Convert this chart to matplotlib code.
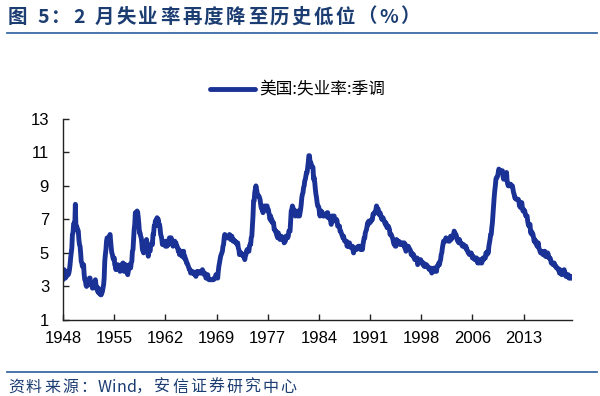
import numpy as np
import matplotlib
matplotlib.use('Agg')
import matplotlib.pyplot as plt
from matplotlib.lines import Line2D

plt.rcParams['font.family'] = ['Liberation Sans', 'Noto Sans CJK SC', 'DejaVu Sans']

# US unemployment rate, seasonally adjusted, monthly from Jan 1948
start_year = 1948
rate = [
    3.4, 3.8, 4.0, 3.9, 3.5, 3.6, 3.6, 3.9, 3.8, 3.7, 3.8, 4.0,   # 1948
    4.3, 4.7, 5.0, 5.3, 6.1, 6.2, 6.7, 6.8, 6.6, 7.9, 6.4, 6.6,   # 1949
    6.5, 6.4, 6.3, 5.8, 5.5, 5.4, 5.0, 4.5, 4.4, 4.2, 4.2, 4.3,   # 1950
    3.7, 3.4, 3.4, 3.1, 3.0, 3.2, 3.1, 3.1, 3.3, 3.5, 3.5, 3.1,   # 1951
    3.2, 3.1, 2.9, 2.9, 3.0, 3.0, 3.2, 3.4, 3.1, 3.0, 2.8, 2.7,   # 1952
    2.9, 2.6, 2.6, 2.7, 2.5, 2.5, 2.6, 2.7, 2.9, 3.1, 3.5, 4.5,   # 1953
    4.9, 5.2, 5.7, 5.9, 5.9, 5.6, 5.8, 6.0, 6.1, 5.7, 5.3, 5.0,   # 1954
    4.9, 4.7, 4.6, 4.7, 4.3, 4.2, 4.0, 4.2, 4.1, 4.3, 4.2, 4.2,   # 1955
    4.0, 3.9, 4.2, 4.0, 4.3, 4.3, 4.4, 4.1, 3.9, 3.9, 4.3, 4.2,   # 1956
    4.2, 3.9, 3.7, 3.9, 4.1, 4.3, 4.2, 4.1, 4.4, 4.5, 5.1, 5.2,   # 1957
    5.8, 6.4, 6.7, 7.4, 7.4, 7.3, 7.5, 7.4, 7.1, 6.7, 6.2, 6.2,   # 1958
    6.0, 5.9, 5.6, 5.2, 5.1, 5.0, 5.1, 5.2, 5.5, 5.7, 5.8, 5.3,   # 1959
    5.2, 4.8, 5.4, 5.2, 5.1, 5.4, 5.5, 5.6, 5.5, 6.1, 6.1, 6.6,   # 1960
    6.6, 6.9, 6.9, 7.0, 7.1, 6.9, 7.0, 6.6, 6.7, 6.5, 6.1, 6.0,   # 1961
    5.8, 5.5, 5.6, 5.6, 5.5, 5.5, 5.4, 5.7, 5.6, 5.4, 5.7, 5.5,   # 1962
    5.7, 5.9, 5.7, 5.7, 5.9, 5.6, 5.6, 5.4, 5.5, 5.5, 5.7, 5.5,   # 1963
    5.6, 5.4, 5.4, 5.3, 5.1, 5.2, 4.9, 5.0, 5.1, 5.1, 4.8, 5.0,   # 1964
    4.9, 5.1, 4.7, 4.8, 4.6, 4.6, 4.4, 4.4, 4.3, 4.2, 4.1, 4.0,   # 1965
    4.0, 3.8, 3.8, 3.8, 3.9, 3.8, 3.8, 3.8, 3.7, 3.7, 3.6, 3.8,   # 1966
    3.9, 3.8, 3.8, 3.8, 3.8, 3.9, 3.8, 3.8, 3.8, 4.0, 3.9, 3.8,   # 1967
    3.7, 3.8, 3.7, 3.5, 3.5, 3.7, 3.7, 3.5, 3.4, 3.4, 3.4, 3.4,   # 1968
    3.4, 3.4, 3.4, 3.4, 3.4, 3.5, 3.5, 3.5, 3.7, 3.7, 3.5, 3.5,   # 1969
    3.9, 4.2, 4.4, 4.6, 4.8, 4.9, 5.0, 5.1, 5.4, 5.5, 5.9, 6.1,   # 1970
    5.9, 5.9, 6.0, 5.9, 5.9, 5.9, 6.0, 6.1, 6.0, 5.8, 6.0, 6.0,   # 1971
    5.8, 5.7, 5.8, 5.7, 5.7, 5.7, 5.6, 5.6, 5.5, 5.6, 5.3, 5.2,   # 1972
    4.9, 5.0, 4.9, 5.0, 4.9, 4.9, 4.8, 4.8, 4.8, 4.6, 4.8, 4.9,   # 1973
    5.1, 5.2, 5.1, 5.1, 5.1, 5.4, 5.5, 5.5, 5.9, 6.0, 6.6, 7.2,   # 1974
    8.1, 8.1, 8.6, 8.8, 9.0, 8.8, 8.6, 8.4, 8.4, 8.4, 8.3, 8.2,   # 1975
    7.9, 7.7, 7.6, 7.7, 7.4, 7.6, 7.8, 7.8, 7.6, 7.7, 7.8, 7.8,   # 1976
    7.5, 7.6, 7.4, 7.2, 7.0, 7.2, 6.9, 7.0, 6.8, 6.8, 6.8, 6.4,   # 1977
    6.4, 6.3, 6.3, 6.1, 6.0, 5.9, 6.2, 5.9, 6.0, 5.8, 5.9, 6.0,   # 1978
    5.9, 5.9, 5.8, 5.8, 5.6, 5.7, 5.7, 6.0, 5.9, 6.0, 5.9, 6.0,   # 1979
    6.3, 6.3, 6.3, 6.9, 7.5, 7.6, 7.8, 7.7, 7.5, 7.5, 7.5, 7.2,   # 1980
    7.5, 7.4, 7.4, 7.2, 7.5, 7.5, 7.2, 7.4, 7.6, 7.9, 8.3, 8.5,   # 1981
    8.6, 8.9, 9.0, 9.3, 9.4, 9.6, 9.8, 9.8, 10.1, 10.4, 10.8, 10.8,  # 1982
    10.4, 10.4, 10.3, 10.2, 10.1, 10.1, 9.4, 9.5, 9.2, 8.8, 8.5, 8.3,  # 1983
    8.0, 7.8, 7.8, 7.7, 7.4, 7.2, 7.5, 7.5, 7.3, 7.4, 7.2, 7.3,   # 1984
    7.3, 7.2, 7.2, 7.3, 7.2, 7.4, 7.4, 7.1, 7.1, 7.1, 7.0, 7.0,   # 1985
    6.7, 7.2, 7.2, 7.1, 7.2, 7.2, 7.0, 6.9, 7.0, 7.0, 6.9, 6.6,   # 1986
    6.6, 6.6, 6.6, 6.3, 6.3, 6.2, 6.1, 6.0, 5.9, 6.0, 5.8, 5.7,   # 1987
    5.7, 5.7, 5.7, 5.4, 5.6, 5.4, 5.4, 5.6, 5.4, 5.4, 5.3, 5.3,   # 1988
    5.4, 5.2, 5.0, 5.2, 5.2, 5.3, 5.2, 5.2, 5.3, 5.3, 5.4, 5.4,   # 1989
    5.4, 5.3, 5.2, 5.4, 5.4, 5.2, 5.5, 5.7, 5.9, 5.9, 6.2, 6.3,   # 1990
    6.4, 6.6, 6.8, 6.7, 6.9, 6.9, 6.8, 6.9, 6.9, 7.0, 7.0, 7.3,   # 1991
    7.3, 7.4, 7.4, 7.4, 7.6, 7.8, 7.7, 7.6, 7.6, 7.3, 7.4, 7.4,   # 1992
    7.3, 7.1, 7.0, 7.1, 7.1, 7.0, 6.9, 6.8, 6.7, 6.8, 6.6, 6.5,   # 1993
    6.6, 6.6, 6.5, 6.4, 6.1, 6.1, 6.1, 6.0, 5.9, 5.8, 5.6, 5.5,   # 1994
    5.6, 5.4, 5.4, 5.8, 5.6, 5.6, 5.7, 5.7, 5.6, 5.5, 5.6, 5.6,   # 1995
    5.6, 5.5, 5.5, 5.6, 5.6, 5.3, 5.5, 5.1, 5.2, 5.2, 5.4, 5.4,   # 1996
    5.3, 5.2, 5.2, 5.1, 4.9, 5.0, 4.9, 4.8, 4.9, 4.7, 4.6, 4.7,   # 1997
    4.6, 4.6, 4.7, 4.3, 4.4, 4.5, 4.5, 4.5, 4.6, 4.5, 4.4, 4.4,   # 1998
    4.3, 4.4, 4.2, 4.3, 4.2, 4.3, 4.3, 4.2, 4.2, 4.1, 4.1, 4.0,   # 1999
    4.0, 4.1, 4.0, 3.8, 4.0, 4.0, 4.0, 4.1, 3.9, 3.9, 3.9, 3.9,   # 2000
    4.2, 4.2, 4.3, 4.4, 4.3, 4.5, 4.6, 4.9, 5.0, 5.3, 5.5, 5.7,   # 2001
    5.7, 5.7, 5.7, 5.9, 5.8, 5.8, 5.8, 5.7, 5.7, 5.7, 5.9, 6.0,   # 2002
    5.8, 5.9, 5.9, 6.0, 6.1, 6.3, 6.2, 6.1, 6.1, 6.0, 5.8, 5.7,   # 2003
    5.7, 5.6, 5.8, 5.6, 5.6, 5.6, 5.5, 5.4, 5.4, 5.5, 5.4, 5.4,   # 2004
    5.3, 5.4, 5.2, 5.2, 5.1, 5.0, 5.0, 4.9, 5.0, 5.0, 5.0, 4.9,   # 2005
    4.7, 4.8, 4.7, 4.7, 4.6, 4.6, 4.7, 4.7, 4.5, 4.4, 4.5, 4.4,   # 2006
    4.6, 4.5, 4.4, 4.5, 4.4, 4.6, 4.7, 4.6, 4.7, 4.7, 4.7, 5.0,   # 2007
    5.0, 4.9, 5.1, 5.0, 5.4, 5.6, 5.8, 6.1, 6.1, 6.5, 6.8, 7.3,   # 2008
    7.8, 8.3, 8.7, 9.0, 9.4, 9.5, 9.5, 9.6, 9.8, 10.0, 9.9, 9.9,  # 2009
    9.8, 9.8, 9.9, 9.9, 9.6, 9.4, 9.4, 9.5, 9.5, 9.4, 9.8, 9.3,   # 2010
    9.1, 9.0, 9.0, 9.1, 9.0, 9.1, 9.0, 9.0, 9.0, 8.8, 8.6, 8.5,   # 2011
    8.3, 8.3, 8.2, 8.2, 8.2, 8.2, 8.2, 8.1, 7.8, 7.8, 7.7, 7.9,   # 2012
    8.0, 7.7, 7.5, 7.6, 7.5, 7.5, 7.3, 7.2, 7.2, 7.2, 6.9, 6.7,   # 2013
    6.6, 6.7, 6.7, 6.2, 6.3, 6.1, 6.2, 6.1, 5.9, 5.7, 5.8, 5.6,   # 2014
    5.7, 5.5, 5.4, 5.4, 5.6, 5.3, 5.2, 5.1, 5.0, 5.0, 5.1, 5.0,   # 2015
    4.9, 4.9, 5.0, 5.1, 4.8, 4.9, 4.8, 4.9, 5.0, 4.9, 4.7, 4.7,   # 2016
    4.7, 4.6, 4.4, 4.4, 4.4, 4.3, 4.3, 4.4, 4.3, 4.2, 4.2, 4.1,   # 2017
    4.1, 4.1, 4.0, 4.0, 3.8, 4.0, 3.8, 3.8, 3.7, 3.8, 3.8, 3.9,   # 2018
    4.0, 3.8, 3.8, 3.6, 3.6, 3.6, 3.7, 3.7, 3.5, 3.6, 3.5, 3.5,   # 2019
    3.6, 3.5,                                                     # 2020
]
tick_labels = ['1948', '1955', '1962', '1969', '1977', '1984', '1991', '1998', '2006', '2013']
y_ticks = [1, 3, 5, 7, 9, 11, 13]
series_name = '美国:失业率:季调'
title = '图 5：2 月失业率再度降至历史低位（%）'
source = '资料来源：Wind，安信证券研究中心'

line_color = '#1a3296'
navy = '#1b3d72'
rule_color = '#3a6aa6'

t = start_year + np.arange(len(rate)) / 12.0

fig = plt.figure(figsize=(6, 3.96), dpi=100)
ax = fig.add_axes([0.105, 0.192, 0.848, 0.508])

ax.plot(t, rate, color=line_color, lw=3.5, solid_joinstyle='round', solid_capstyle='round')
ax.set_xlim(t[0], t[-1])
ax.set_ylim(1, 13)
ax.set_yticks(y_ticks)
ax.set_yticklabels([str(v) for v in y_ticks])
# one tick every 87 months
ax.set_xticks(start_year + np.arange(len(tick_labels)) * 87 / 12.0)
ax.set_xticklabels(tick_labels)

for s in ['top', 'right']:
    ax.spines[s].set_visible(False)
for s in ['left', 'bottom']:
    ax.spines[s].set_color('#222222')
    ax.spines[s].set_linewidth(1.0)
ax.tick_params(axis='both', direction='in', length=4, width=1, color='#222222', labelsize=12)
ax.tick_params(axis='y', pad=10)
ax.tick_params(axis='x', pad=8)

fig.legend(handles=[Line2D([], [], color=line_color, lw=3.5, solid_capstyle='round')],
           labels=[series_name], loc='center', bbox_to_anchor=(0.496, 0.773),
           frameon=False, handlelength=2.7, handletextpad=0.2,
           prop={'family': ['Noto Sans CJK SC'], 'size': 12})


# text with extra letter spacing (px), one character at a time
def spaced_text(x_px, y, s, gap, latin_gap=None, **kw):
    if latin_gap is None:
        latin_gap = gap
    r = fig.canvas.get_renderer()
    for ch in s:
        tx = fig.text(x_px / 600.0, y, ch, ha='left', va='center', **kw)
        w = tx.get_window_extent(renderer=r).width
        if ch == ' ':
            w = kw.get('fontsize', 12) * 0.35
        x_px += w + (latin_gap if ch.isascii() and ch.isalnum() else gap)


spaced_text(8, 0.957, title, 2.4, fontsize=14, fontweight='bold',
            color=navy, family=['Noto Sans CJK SC', 'DejaVu Sans'])
fig.add_artist(Line2D([0.012, 0.995], [0.917, 0.917], color=rule_color, lw=1.3))
fig.add_artist(Line2D([0.012, 0.995], [0.061, 0.061], color=rule_color, lw=1.3))
spaced_text(8, 0.022, source, 2.0, latin_gap=0.0, fontsize=11.5, style='italic',
            color=navy, family=['Noto Sans CJK SC', 'DejaVu Sans'])

fig.savefig('out.png', dpi=100)
